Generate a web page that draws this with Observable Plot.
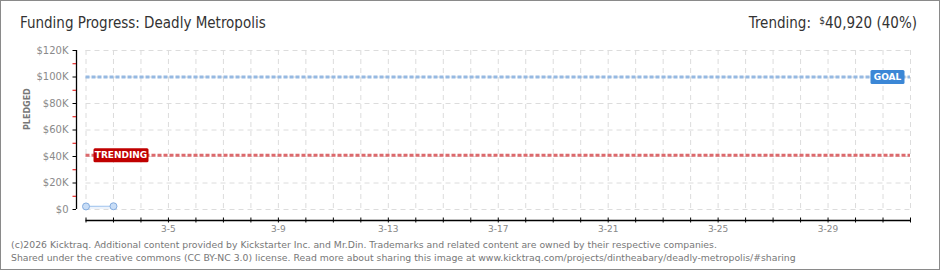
<!DOCTYPE html>
<html>
<head>
<meta charset="utf-8">
<script src="https://cdn.jsdelivr.net/npm/d3@7"></script>
<script src="https://cdn.jsdelivr.net/npm/@observablehq/plot@0.6"></script>
<style>
  html, body { margin: 0; padding: 0; background: #fff; }
  #wrap { position: relative; width: 940px; height: 270px; overflow: hidden; background: #fff; }
  #border { position: absolute; left: 0; top: 0; width: 940px; height: 270px; box-sizing: border-box; border: 1px solid #8a8a8a; pointer-events: none; }
  #chart { position: absolute; left: 0; top: 0; }
  #title { position: absolute; left: 20px; top: 14px; font-family: "Liberation Sans Narrow", "DejaVu Sans Condensed", sans-serif; font-size: 15px; color: #333; white-space: nowrap; }
  #trend { position: absolute; right: 23px; top: 14px; font-family: "Liberation Sans Narrow", "DejaVu Sans Condensed", sans-serif; font-size: 15px; color: #333; white-space: nowrap; }
  #trend .sup { font-size: 10px; vertical-align: 4px; margin-left: 4px; }
  #footer { position: absolute; left: 11px; top: 238px; font-family: "DejaVu Sans", sans-serif; font-size: 9.3px; line-height: 13px; color: #777; white-space: nowrap; }
</style>
</head>
<body>
<div id="wrap">
  <div id="chart"></div>
  <div id="title">Funding Progress: Deadly Metropolis</div>
  <div id="trend">Trending: <span class="sup">$</span>40,920 (40%)</div>
  <div id="footer">(c)2026 Kicktraq. Additional content provided by Kickstarter Inc. and Mr.Din. Trademarks and related content are owned by their respective companies.<br>Shared under the creative commons (CC BY-NC 3.0) license. Read more about sharing this image at www.kicktraq.com/projects/dintheabary/deadly-metropolis/#sharing</div>
  <div id="border"></div>
</div>
<script>
// ---- data ----
const pledgeDates = ["2026-03-02", "2026-03-03"];
const pledgeValues = [2300, 2450];
const goalValue = 100000;
const trendingValue = 40920;
const xDomainDates = ["2026-03-02", "2026-04-01"];
const xLabelDates = ["2026-03-05", "2026-03-09", "2026-03-13", "2026-03-17", "2026-03-21", "2026-03-25", "2026-03-29"];
const yTicks = [0, 20000, 40000, 60000, 80000, 100000, 120000];
const yMinorTicks = [10000, 30000, 50000, 70000, 90000, 110000];
const yAxisLabel = "PLEDGED";
const goalLabel = "GOAL";
const trendingLabel = "TRENDING";

// ---- build ----
const parse = d3.utcParse("%Y-%m-%d");
const pledges = pledgeDates.map((d, i) => ({date: parse(d), value: pledgeValues[i]}));
const xDomain = xDomainDates.map(parse);
const dayTicks = d3.utcDay.range(xDomain[0], d3.utcDay.offset(xDomain[1], 1));
const labelTicks = xLabelDates.map(parse);
const fmtDate = d3.utcFormat("%-m-%-d");
const fmtMoney = v => v === 0 ? "$0" : "$" + (v / 1000) + "K";

function boxSymbol(w, h) {
  return {
    draw(ctx) {
      const r = 1.5, x0 = -w / 2, y0 = -h / 2, x1 = w / 2, y1 = h / 2;
      ctx.moveTo(x0 + r, y0);
      ctx.lineTo(x1 - r, y0);
      ctx.quadraticCurveTo(x1, y0, x1, y0 + r);
      ctx.lineTo(x1, y1 - r);
      ctx.quadraticCurveTo(x1, y1, x1 - r, y1);
      ctx.lineTo(x0 + r, y1);
      ctx.quadraticCurveTo(x0, y1, x0, y1 - r);
      ctx.lineTo(x0, y0 + r);
      ctx.quadraticCurveTo(x0, y0, x0 + r, y0);
      ctx.closePath();
    }
  };
}

const axisFont = "DejaVu Sans, sans-serif";

const plot = Plot.plot({
  width: 940,
  height: 270,
  marginLeft: 85.5,
  marginRight: 30,
  marginTop: 50,
  marginBottom: 61,
  style: {background: "transparent", overflow: "visible"},
  x: {type: "utc", domain: xDomain, axis: null, label: null},
  y: {domain: [0, 120000], axis: null, label: null},
  marks: [
    Plot.gridY(yTicks, {stroke: "#dcdcdc", strokeOpacity: 1, strokeDasharray: "5,4"}),
    Plot.gridX(dayTicks, {stroke: "#dcdcdc", strokeOpacity: 1, strokeDasharray: "5,4"}),
    Plot.areaY(pledges, {x: "date", y: "value", fill: "#edf3fb"}),
    Plot.line(pledges, {x: "date", y: "value", stroke: "#a9c9ef", strokeWidth: 1.2}),
    Plot.ruleY([goalValue], {stroke: "#96b9e2", strokeWidth: 3, strokeDasharray: "4,2"}),
    Plot.ruleY([trendingValue], {stroke: "#dc6a6d", strokeWidth: 3, strokeDasharray: "4,2"}),
    Plot.dot(pledges, {x: "date", y: "value", r: 3.5, fill: "#c8ddf6", stroke: "#84acdf", strokeWidth: 1}),
    // y axis
    Plot.ruleX([xDomain[0]], {dx: -9.5, stroke: "#000", strokeWidth: 1.3}),
    Plot.axisY({ticks: yTicks, label: null, tickSize: 3.5, tickPadding: 4.5, dx: -9.5, stroke: "#000", fill: "#8a8a8a",
      tickFormat: fmtMoney, fontSize: 10, fontFamily: axisFont}),
    Plot.axisY({ticks: yMinorTicks, label: null, tickSize: 3.5, dx: -9.5, stroke: "#e00000", tickFormat: () => ""}),
    Plot.text([yAxisLabel], {frameAnchor: "left", rotate: -90, dx: -59, fill: "#777", fontSize: 8,
      fontFamily: axisFont, fontWeight: "bold", style: "letter-spacing:1.5px"}),
    // x axis
    Plot.ruleY([0], {dy: 11, stroke: "#000", strokeWidth: 1.3}),
    Plot.axisX({ticks: dayTicks, label: null, tickSize: 5, dy: 8.5, stroke: "#000", tickFormat: () => ""}),
    Plot.axisX({ticks: labelTicks, label: null, tickSize: 0, tickPadding: 3, dy: 13, fill: "#888",
      tickFormat: fmtDate, fontSize: 9, fontFamily: axisFont}),
    // labels
    Plot.dot([trendingValue], {x: () => xDomain[0], y: d => d, dx: 35, symbol: boxSymbol(55, 14), r: 5,
      fill: "#c00000", stroke: "none"}),
    Plot.text([trendingLabel], {x: () => xDomain[0], y: () => trendingValue, dx: 35, fill: "#fff",
      fontSize: 9, fontWeight: "bold", fontFamily: axisFont, style: "letter-spacing:0.5px"}),
    Plot.dot([goalValue], {x: () => xDomain[1], y: d => d, dx: -23, symbol: boxSymbol(34, 14), r: 5,
      fill: "#3b87d6", stroke: "none"}),
    Plot.text([goalLabel], {x: () => xDomain[1], y: () => goalValue, dx: -23, fill: "#fff",
      fontSize: 9, fontWeight: "bold", fontFamily: axisFont, style: "letter-spacing:0.5px"})
  ]
});
document.getElementById("chart").appendChild(plot);
</script>
</body>
</html>
